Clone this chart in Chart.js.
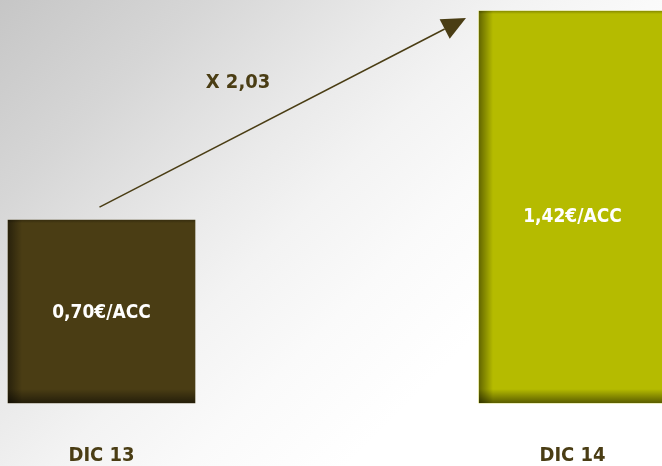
<!DOCTYPE html>
<html>
<head>
<meta charset="utf-8">
<script src="https://cdn.jsdelivr.net/npm/chart.js@4"></script>
<style>
  html, body { margin: 0; padding: 0; }
  body {
    width: 662px; height: 466px; overflow: hidden;
    background: linear-gradient(135deg, #c6c6c6 0%, #d6d6d6 18%, #eaeaea 36%, #f3f3f3 46%, #fafafa 58%, #ffffff 72%, #ffffff 100%);
  }
  #wrap { position: relative; width: 662px; height: 466px; }
</style>
</head>
<body>
<div id="wrap"><canvas id="chart"></canvas></div>
<script>
// Datos del gráfico
const categorias = ['DIC 13', 'DIC 14'];
const valores = [0.70, 1.42];
const etiquetasValor = ['0,70€/ACC', '1,42€/ACC'];
const etiquetaRatio = 'X 2,03';
const coloresBarras = ['#4a3d14', '#b5bb00'];

const marron = '#4a3d14';
const fuente = "'DejaVu Sans Condensed', 'DejaVu Sans', sans-serif";
const baseEje = 0.07;

// Sombras, etiquetas y flecha
const decoraciones = {
    id: 'decoraciones',
    afterDatasetsDraw(chart) {
        const ctx = chart.ctx;
        const barras = chart.getDatasetMeta(0).data;
        const desplazamientos = [2, 10];
        ctx.save();

        barras.forEach((bar, i) => {
            const left = bar.x - bar.width / 2;
            const right = bar.x + bar.width / 2;
            const top = bar.y;
            const bottom = bar.base;

            // sombra izquierda
            let g = ctx.createLinearGradient(left, 0, left + 14, 0);
            g.addColorStop(0, 'rgba(0,0,0,0.45)');
            g.addColorStop(1, 'rgba(0,0,0,0)');
            ctx.fillStyle = g;
            ctx.fillRect(left, top, 14, bottom - top);

            // sombra inferior
            g = ctx.createLinearGradient(0, bottom, 0, bottom - 14);
            g.addColorStop(0, 'rgba(0,0,0,0.5)');
            g.addColorStop(1, 'rgba(0,0,0,0)');
            ctx.fillStyle = g;
            ctx.fillRect(left, bottom - 14, right - left, 14);

            // borde superior
            g = ctx.createLinearGradient(0, top, 0, top + 3);
            g.addColorStop(0, 'rgba(0,0,0,0.25)');
            g.addColorStop(1, 'rgba(0,0,0,0)');
            ctx.fillStyle = g;
            ctx.fillRect(left, top, right - left, 3);

            // texto del valor
            ctx.fillStyle = '#ffffff';
            ctx.font = 'bold 19px ' + fuente;
            ctx.textAlign = 'center';
            ctx.textBaseline = 'middle';
            ctx.fillText(etiquetasValor[i], bar.x, (top + bottom) / 2 + desplazamientos[i]);
        });

        // flecha
        const b1 = barras[0], b2 = barras[1];
        const x0 = b1.x - 2, y0 = b1.y - 13;
        const x1 = b2.x - b2.width / 2 - 13, y1 = b2.y + 7;
        const ang = Math.atan2(y1 - y0, x1 - x0);
        const largo = 24, ancho = 11;
        const bx = x1 - largo * Math.cos(ang), by = y1 - largo * Math.sin(ang);

        ctx.strokeStyle = marron;
        ctx.lineWidth = 1.5;
        ctx.beginPath();
        ctx.moveTo(x0, y0);
        ctx.lineTo(bx, by);
        ctx.stroke();

        ctx.fillStyle = marron;
        ctx.beginPath();
        ctx.moveTo(x1, y1);
        ctx.lineTo(bx + ancho * Math.sin(ang), by - ancho * Math.cos(ang));
        ctx.lineTo(bx - ancho * Math.sin(ang), by + ancho * Math.cos(ang));
        ctx.closePath();
        ctx.fill();

        // texto del ratio
        ctx.fillStyle = marron;
        ctx.font = 'bold 20px ' + fuente;
        ctx.textAlign = 'center';
        ctx.textBaseline = 'middle';
        ctx.fillText(etiquetaRatio, 238, 83);

        ctx.restore();
    }
};

const ctx = document.getElementById('chart').getContext('2d');
new Chart(ctx, {
    type: 'bar',
    data: {
        labels: categorias,
        datasets: [{
            data: valores,
            backgroundColor: coloresBarras,
            borderWidth: 0,
            barThickness: 187,
            base: baseEje,
            clip: false
        }]
    },
    options: {
        responsive: true,
        maintainAspectRatio: false,
        animation: false,
        layout: {
            padding: { top: 11, left: 101.5, right: 89.5, bottom: 0 }
        },
        plugins: {
            legend: { display: false },
            tooltip: { enabled: false }
        },
        scales: {
            x: {
                offset: false,
                grid: { display: false },
                border: { display: false },
                afterFit(scale) { scale.height = 63; },
                ticks: {
                    padding: 34,
                    color: marron,
                    font: { family: fuente, size: 20, weight: 'bold', lineHeight: 1.1 }
                }
            },
            y: {
                display: false,
                min: baseEje,
                max: 1.42
            }
        }
    },
    plugins: [decoraciones]
});
</script>
</body>
</html>
